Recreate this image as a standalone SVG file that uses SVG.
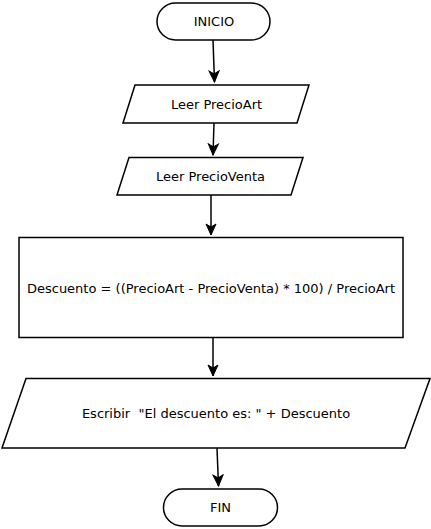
<svg xmlns="http://www.w3.org/2000/svg" width="431" height="529" viewBox="0 0 431 529">
<defs>
<marker id="arr" markerUnits="userSpaceOnUse" markerWidth="14" markerHeight="14" viewBox="-12 -6 14 12" refX="0" refY="0" orient="auto">
<path d="M0,0 L-11,-5 L-8,0 L-11,5 Z" fill="#000" stroke="#000" stroke-width="1"/>
</marker>
</defs>
<style>
.s{fill:#fff;stroke:#000;stroke-width:1.5}
.t{font-family:"DejaVu Sans",sans-serif;font-size:13px;fill:#000;text-anchor:middle;dominant-baseline:central;white-space:pre}
.c{fill:none;stroke:#000;stroke-width:1.5;marker-end:url(#arr)}
</style>
<rect width="431" height="529" fill="#fff"/>
<g id="connectors">
<path class="c" d="M213,40 L214.5,82"/>
<path class="c" d="M214,123 L213,155"/>
<path class="c" d="M211,195 L211,235"/>
<path class="c" d="M213,337 L213,376"/>
<path class="c" d="M217,448 L218.5,486"/>
</g>
<g id="inicio">
<rect class="s" x="157" y="3" width="113" height="37" rx="18.5"/>
<text class="t" x="214" y="21.5">INICIO</text>
</g>
<g id="leer1">
<path class="s" d="M135,85 L309,85 L297,123 L123,123 Z"/>
<text class="t" x="216.5" y="104">Leer PrecioArt</text>
</g>
<g id="leer2">
<path class="s" d="M129,157.5 L303,157.5 L291,195 L117,195 Z"/>
<text class="t" x="210.5" y="176.5">Leer PrecioVenta</text>
</g>
<g id="proceso">
<rect class="s" x="19" y="237.5" width="384" height="100"/>
<text class="t" x="211" y="288">Descuento = ((PrecioArt - PrecioVenta) * 100) / PrecioArt</text>
</g>
<g id="escribir">
<path class="s" d="M26,378.5 L430,378.5 L405,448 L2,448 Z"/>
<text class="t" x="216" y="413" xml:space="preserve">Escribir  "El descuento es: " + Descuento</text>
</g>
<g id="fin">
<rect class="s" x="163.5" y="489" width="114" height="37" rx="18.5"/>
<text class="t" x="220.5" y="507.5">FIN</text>
</g>
</svg>
